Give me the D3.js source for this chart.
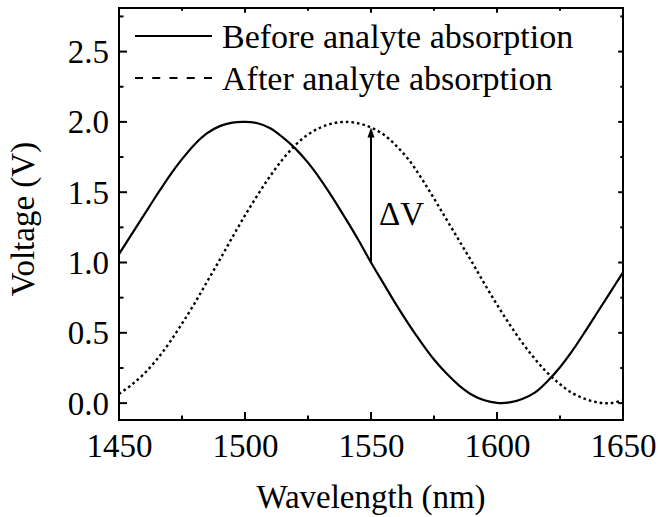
<!DOCTYPE html>
<html>
<head>
<meta charset="utf-8">
<script src="https://cdn.jsdelivr.net/npm/d3@7"></script>
<style>
  html, body { margin: 0; padding: 0; background: #fff; }
</style>
</head>
<body>
<svg id="chart" width="658" height="517"></svg>
<script>
// Wavelength samples (nm)
const wavelength = [
  1450, 1455, 1460, 1465, 1470, 1475, 1480, 1485, 1490, 1495,
  1500, 1505, 1510, 1515, 1520, 1525, 1530, 1535, 1540, 1545,
  1550, 1555, 1560, 1565, 1570, 1575, 1580, 1585, 1590, 1595,
  1600, 1605, 1610, 1615, 1620, 1625, 1630, 1635, 1640, 1645, 1650
];
// Output voltage before analyte absorption (V)
const voltageBefore = [
  1.06, 1.20, 1.34, 1.48, 1.615, 1.735, 1.84, 1.92, 1.97, 1.995,
  2.00, 1.99, 1.955, 1.89, 1.81, 1.71, 1.59, 1.455, 1.31, 1.16,
  1.00, 0.85, 0.70, 0.56, 0.43, 0.31, 0.21, 0.125, 0.06, 0.02,
  0.002, 0.005, 0.03, 0.075, 0.155, 0.255, 0.375, 0.51, 0.65, 0.79, 0.93
];
// Output voltage after analyte absorption (V)
const voltageAfter = [
  0.065, 0.13, 0.21, 0.31, 0.43, 0.565, 0.71, 0.865, 1.02, 1.18,
  1.335, 1.48, 1.615, 1.735, 1.835, 1.91, 1.96, 1.99, 2.00, 1.99,
  1.96, 1.91, 1.83, 1.73, 1.60, 1.455, 1.305, 1.155, 1.005, 0.85,
  0.70, 0.56, 0.43, 0.315, 0.215, 0.135, 0.07, 0.03, 0.005, 0.00, 0.02
];
const seriesNames = ["Before analyte absorption", "After analyte absorption"];
const xTickValues = [1450, 1500, 1550, 1600, 1650];
const yTickValues = [0.0, 0.5, 1.0, 1.5, 2.0, 2.5];
const xDomain = [1450, 1650];
const yDomain = [-0.12, 2.81];
const markWavelength = 1550;   // where the ΔV arrow is drawn
const xTitle = "Wavelength (nm)";
const yTitle = "Voltage (V)";

const FONT_FAMILY = '"Liberation Serif", Tinos, "Times New Roman", Times, "DejaVu Serif", serif';
const FONT = 33;
const LEGEND_FONT = 34;
const LW = 2;

const svg = d3.select("#chart").attr("font-family", FONT_FAMILY);
const pL = 119, pR = 623, pT = 8, pB = 420;
const x = d3.scaleLinear().domain(xDomain).range([pL, pR]);
const y = d3.scaleLinear().domain(yDomain).range([pB, pT]);

// minor ticks half way between majors
const xMinor = d3.range(xDomain[0], xDomain[1] + 0.001, 25);
const yMinor = d3.range(0, yDomain[1], 0.25);

function isMajorX(v) { return xTickValues.some(t => Math.abs(t - v) < 1e-6); }
function isMajorY(v) { return yTickValues.some(t => Math.abs(t - v) < 1e-6); }

const tickG = svg.append("g").attr("stroke", "#000").attr("stroke-width", LW);
// bottom and top ticks (pointing inward)
xMinor.forEach(v => {
  const len = isMajorX(v) ? 8 : 4.5;
  tickG.append("line").attr("x1", x(v)).attr("x2", x(v)).attr("y1", pB).attr("y2", pB - len);
  tickG.append("line").attr("x1", x(v)).attr("x2", x(v)).attr("y1", pT).attr("y2", pT + len * 0.6);
});
// left and right ticks (pointing inward)
yMinor.forEach(v => {
  const len = isMajorY(v) ? 8 : 4.5;
  tickG.append("line").attr("y1", y(v)).attr("y2", y(v)).attr("x1", pL).attr("x2", pL + len);
  tickG.append("line").attr("y1", y(v)).attr("y2", y(v)).attr("x1", pR).attr("x2", pR - len * 0.6);
});

// axis tick labels via d3 axes (domain path and tick lines hidden)
const xAxis = d3.axisBottom(x).tickValues(xTickValues).tickFormat(d3.format("d")).tickSize(0).tickPadding(0);
const gx = svg.append("g").attr("transform", `translate(0,${pB})`).call(xAxis)
  .attr("font-family", FONT_FAMILY).attr("font-size", FONT);
gx.select(".domain").remove();
gx.selectAll("text").attr("fill", "#000").attr("dy", null).attr("y", 37);

const yAxis = d3.axisLeft(y).tickValues(yTickValues).tickFormat(d3.format(".1f")).tickSize(0).tickPadding(0);
const gy = svg.append("g").attr("transform", `translate(${pL},0)`).call(yAxis)
  .attr("font-family", FONT_FAMILY).attr("font-size", FONT);
gy.select(".domain").remove();
gy.selectAll("text").attr("fill", "#000").attr("x", -10).attr("dy", "0.33em");

// clip the curves to the plot frame
svg.append("clipPath").attr("id", "plotClip")
  .append("rect").attr("x", pL).attr("y", pT).attr("width", pR - pL).attr("height", pB - pT);

const line = d3.line()
  .x(d => x(d[0]))
  .y(d => y(d[1]))
  .curve(d3.curveCatmullRom.alpha(0.5));

const before = wavelength.map((w, i) => [w, voltageBefore[i]]);
const after = wavelength.map((w, i) => [w, voltageAfter[i]]);

const plot = svg.append("g").attr("clip-path", "url(#plotClip)");
plot.append("path").datum(after).attr("d", line)
  .attr("fill", "none").attr("stroke", "#000").attr("stroke-width", 2.4)
  .attr("stroke-dasharray", "2.6,3");
plot.append("path").datum(before).attr("d", line)
  .attr("fill", "none").attr("stroke", "#000").attr("stroke-width", 2.2);

// ΔV arrow between the two curves
const iMark = wavelength.indexOf(markWavelength);
const ax = x(markWavelength);
const y0 = y(voltageBefore[iMark]);
const y1 = y(voltageAfter[iMark]);
const headH = 10, headW = 3.5;
svg.append("line").attr("x1", ax).attr("x2", ax).attr("y1", y0).attr("y2", y1 + headH - 1)
  .attr("stroke", "#000").attr("stroke-width", LW);
svg.append("path")
  .attr("d", `M${ax},${y1} L${ax - headW},${y1 + headH} L${ax + headW},${y1 + headH} Z`)
  .attr("fill", "#000");
svg.append("text").attr("x", ax + 8).attr("y", (y0 + y1) / 2 + 30)
  .attr("font-size", FONT).attr("fill", "#000").text("ΔV");

// frame
svg.append("rect").attr("x", pL).attr("y", pT).attr("width", pR - pL).attr("height", pB - pT)
  .attr("fill", "none").attr("stroke", "#000").attr("stroke-width", LW);

// legend
const legend = svg.append("g");
const legRows = [{ y: 36, dash: null }, { y: 78, dash: "8,9.25" }];
legRows.forEach((r, i) => {
  legend.append("line").attr("x1", 135).attr("x2", 212).attr("y1", r.y).attr("y2", r.y)
    .attr("stroke", "#000").attr("stroke-width", LW).attr("stroke-dasharray", r.dash);
  legend.append("text").attr("x", 222).attr("y", r.y + 11.5)
    .attr("font-size", LEGEND_FONT).attr("fill", "#000").text(seriesNames[i]);
});

// axis titles
svg.append("text").attr("x", (pL + pR) / 2).attr("y", 508)
  .attr("text-anchor", "middle").attr("font-size", FONT).attr("fill", "#000").text(xTitle);
svg.append("text").attr("transform", "translate(34,219) rotate(-90)")
  .attr("text-anchor", "middle").attr("font-size", FONT).attr("fill", "#000").text(yTitle);
</script>
</body>
</html>
